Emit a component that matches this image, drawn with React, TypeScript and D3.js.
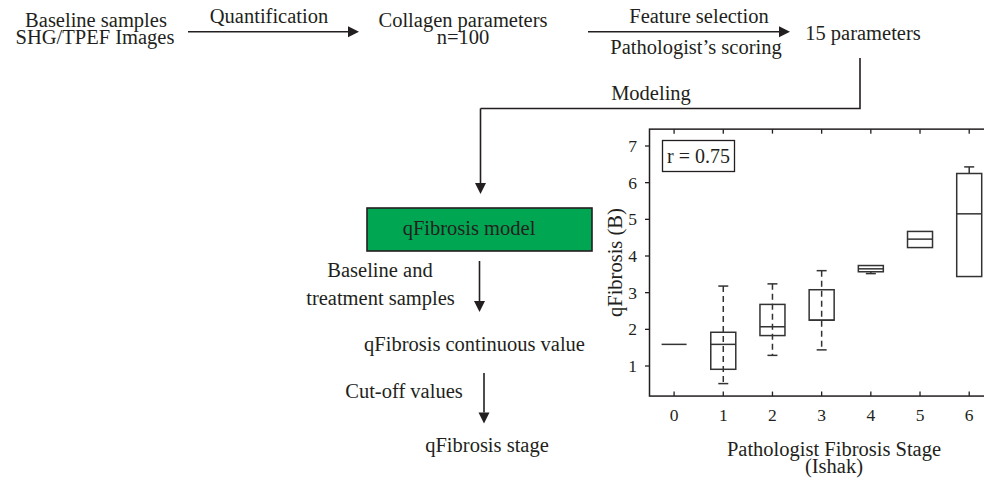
import React from "react";
import * as d3 from "d3";

// box plot data: qFibrosis (B) per pathologist Ishak stage
const stages = [0, 1, 2, 3, 4, 5, 6];
const whiskerLow = [1.59, 0.52, 1.29, 1.44, 3.52, 4.23, 3.44];
const boxLow = [1.59, 0.91, 1.83, 2.25, 3.57, 4.23, 3.44];
const medians = [1.59, 1.59, 2.07, 2.25, 3.65, 4.46, 5.15];
const boxHigh = [1.59, 1.92, 2.68, 3.08, 3.74, 4.67, 6.25];
const whiskerHigh = [1.59, 3.18, 3.24, 3.6, 3.74, 4.67, 6.43];
const yTicks = [1, 2, 3, 4, 5, 6, 7];

const FONT = "'Liberation Serif', 'Times New Roman', serif";
const INK = "#231f20";
const LINE = "#333";
const FS = 20.5;

const Arrow = ({ x1, y1, x2, y2 }: { x1: number; y1: number; x2: number; y2: number }) => {
  const ang = Math.atan2(y2 - y1, x2 - x1);
  const len = 11, half = 5.5;
  const bx = x2 - len * Math.cos(ang), by = y2 - len * Math.sin(ang);
  const px = -Math.sin(ang) * half, py = Math.cos(ang) * half;
  return (
    <g>
      <line x1={x1} y1={y1} x2={bx} y2={by} stroke={INK} strokeWidth={1.6} />
      <path d={`M${x2},${y2}L${bx + px},${by + py}L${bx - px},${by - py}Z`} fill={INK} />
    </g>
  );
};

const App = () => {
  const W = 984, H = 481;
  const x = d3.scaleLinear().domain([-0.5, 6.5]).range([649.5, 993.8]);
  const y = d3.scaleLinear().domain([1, 7]).range([366, 146]);
  const top = y(7.46), bottom = y(0.18), left = x(-0.5), right = x(6.5);
  const bw = 12.5; // half box width
  const cw = 5; // half cap width

  const t = (txt: string, tx: number, ty: number, anchor = "middle", size = FS) => (
    <text x={tx} y={ty} textAnchor={anchor} dominantBaseline="central" fontSize={size} fill={INK}>
      {txt}
    </text>
  );

  return (
    <div style={{ position: "absolute", left: 0, top: 0 }}>
      <svg width={W} height={H} fontFamily={FONT} style={{ display: "block", background: "#fff" }}>
        {/* flow chart */}
        {t("Baseline samples", 96, 20)}
        {t("SHG/TPEF Images", 95, 37)}
        {t("Quantification", 269, 15.5)}
        <Arrow x1={188} y1={31.7} x2={359} y2={31.7} />
        {t("Collagen parameters", 463, 20)}
        {t("n=100", 463, 37)}
        {t("Feature selection", 699, 16)}
        <Arrow x1={588} y1={31.7} x2={790} y2={31.7} />
        {t("Pathologist\u2019s scoring", 696, 46.5)}
        {t("15 parameters", 863, 33)}
        <path d="M860,58V108.5H480.5" fill="none" stroke={INK} strokeWidth={1.6} />
        {t("Modeling", 651, 93)}
        <Arrow x1={480.5} y1={108.5} x2={480.5} y2={194} />
        <rect x={367} y={208} width={225} height={43} fill="#00a651" stroke="#231f20" strokeWidth={1.6} />
        {t("qFibrosis model", 469, 227.5)}
        <Arrow x1={479.5} y1={261} x2={479.5} y2={312} />
        {t("Baseline and", 380, 270)}
        {t("treatment samples", 380.5, 298)}
        {t("qFibrosis continuous value", 474.5, 344)}
        <Arrow x1={484} y1={373} x2={484} y2={423.5} />
        {t("Cut-off values", 404, 391)}
        {t("qFibrosis stage", 487, 445)}

        {/* box plot frame */}
        <rect x={left} y={top} width={right - left} height={bottom - top} fill="none" stroke={INK} strokeWidth={1.5} />
        {stages.map((s) => (
          <g key={"xt" + s}>
            <line x1={x(s)} x2={x(s)} y1={bottom} y2={bottom - 4.5} stroke={INK} strokeWidth={1.3} />
            <line x1={x(s)} x2={x(s)} y1={top} y2={top + 4.5} stroke={INK} strokeWidth={1.3} />
            {t(String(s), x(s), 415, "middle", 17.5)}
          </g>
        ))}
        {yTicks.map((v) => (
          <g key={"yt" + v}>
            <line x1={left} x2={left - 4.5} y1={y(v)} y2={y(v)} stroke={INK} strokeWidth={1.3} />
            {t(String(v), left - 17, y(v), "middle", 17.5)}
          </g>
        ))}
        <text
          transform={`translate(615,${(top + bottom) / 2}) rotate(-90)`}
          textAnchor="middle"
          dominantBaseline="central"
          fontSize={FS}
          fill={INK}
        >
          qFibrosis (B)
        </text>
        {t("Pathologist Fibrosis Stage", 834, 449)}
        {t("(Ishak)", 834, 466)}

        {/* r box */}
        <rect x={662.5} y={140.5} width={72} height={31} fill="#fff" stroke={INK} strokeWidth={1.3} />
        {t("r = 0.75", 698.5, 156, "middle", 20)}

        {/* boxes */}
        {stages.map((s, i) => {
          const cx = x(s);
          const flat = boxHigh[i] === boxLow[i];
          const hasHi = whiskerHigh[i] > boxHigh[i];
          const hasLo = whiskerLow[i] < boxLow[i];
          const dash = "6,4";
          return (
            <g key={"b" + s} stroke={LINE} fill="none" strokeWidth={1.5}>
              {hasHi && hasLo && (
                <line x1={cx} x2={cx} y1={y(whiskerHigh[i])} y2={y(whiskerLow[i])} strokeDasharray={dash} />
              )}
              {hasHi && !hasLo && (
                <line x1={cx} x2={cx} y1={y(whiskerHigh[i])} y2={y(boxHigh[i])} strokeDasharray={dash} />
              )}
              {hasLo && !hasHi && (
                <line x1={cx} x2={cx} y1={y(whiskerLow[i])} y2={y(boxLow[i])} strokeDasharray={dash} />
              )}
              {hasHi && <line x1={cx - cw} x2={cx + cw} y1={y(whiskerHigh[i])} y2={y(whiskerHigh[i])} />}
              {hasLo && <line x1={cx - cw} x2={cx + cw} y1={y(whiskerLow[i])} y2={y(whiskerLow[i])} />}
              {!flat && <rect x={cx - bw} y={y(boxHigh[i])} width={bw * 2} height={y(boxLow[i]) - y(boxHigh[i])} />}
              <line x1={cx - bw} x2={cx + bw} y1={y(medians[i])} y2={y(medians[i])} />
            </g>
          );
        })}
      </svg>
    </div>
  );
};

export default App;
